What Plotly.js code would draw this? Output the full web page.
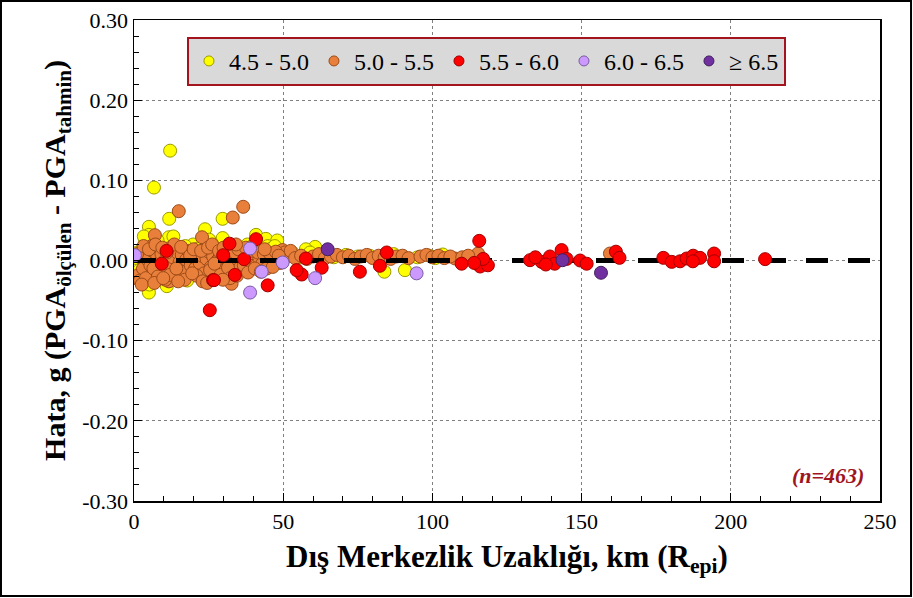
<!DOCTYPE html>
<html>
<head>
<meta charset="utf-8">
<script src="https://cdn.plot.ly/plotly-3.0.1.min.js"></script>
<style>
html,body{margin:0;padding:0;background:#fff;}
#chart{width:913px;height:598px;}
</style>
</head>
<body>
<div id="chart"></div>
<script>
// ---- Data ----
const seriesNames = ["4.5 - 5.0", "5.0 - 5.5", "5.5 - 6.0", "6.0 - 6.5", "\u2265 6.5"];

const m45X = [12.1, 6.7, 11.8, 5.0, 5.0, 11.7, 3.7, 19.8, 23.8, 5.0, 3.0, 6.4, 11.0, 17.8, 29.7, 29.7, 40.9, 44.2, 44.8, 60.7, 57.6, 83.9, 90.8, 103.5,
  0.8, 1.8, 2.8, 3.5, 4.2, 5.5, 6.0, 7.5, 8.2, 9.0, 10.5, 12.5, 14.0, 16.5, 18.0, 20.0, 21.5, 24.0, 26.0, 27.5, 30.5, 34.5, 36.0, 38.0, 42.0, 46.0, 48.0, 50.0,
  53.0, 56.0, 59.0, 63.0, 67.0, 71.0, 75.0, 79.0, 84.0, 87.0, 95.0, 99.0, 101.0,
  1.2, 3.3, 5.2, 7.9, 10.2, 13.2, 15.5, 17.2, 22.2, 25.2, 28.2, 31.2, 33.5, 37.2, 40.2, 43.2, 45.5, 47.2];
const m45Y = [0.137, 0.091, 0.052, 0.042, 0.032, 0.029, 0.024, 0.020, 0.039, -0.040, -0.029, -0.026, -0.032, -0.025, 0.052, 0.028, 0.032, 0.027, 0.018, 0.017, 0.014, -0.014, -0.012, 0.0075,
  0.003, -0.012, 0.014, -0.005, 0.020, -0.022, 0.008, -0.009, 0.016, -0.017, 0.005, -0.014, 0.012, -0.020, 0.008, -0.012, 0.015, -0.008, 0.022, 0.006, 0.010, 0.016, -0.012, 0.020, 0.012, 0.015, 0.025, 0.006,
  0.010, 0.004, 0.010, 0.006, 0.004, 0.007, 0.005, 0.006, 0.005, 0.008, 0.004, 0.006, 0.003,
  0.010, 0.030, -0.030, 0.025, -0.020, 0.030, -0.015, 0.018, -0.010, 0.026, -0.015, 0.015, 0.010, -0.008, 0.020, -0.010, 0.012, 0.018];

const m50X = [15.0, 36.6, 33.1, 7.0, 22.8, 5.9, 0.9, 4.7, 11.7, 32.7, 49.8, 115.3, 107.6, 159.5,
  1.5, 2.2, 3.0, 3.8, 4.5, 5.5, 6.2, 7.0, 7.8, 8.5, 9.2, 10.0, 10.8, 11.5, 12.3, 13.0, 13.8, 14.5, 15.3, 16.0, 16.8, 17.5, 18.3, 19.0, 19.8, 20.5,
  21.3, 22.0, 22.8, 23.5, 24.3, 25.0, 25.8, 26.5, 27.3, 28.0, 28.8, 29.5, 30.3, 31.0, 31.8, 32.5, 33.3, 34.0, 34.8, 35.5, 36.3, 37.0, 37.8, 38.5,
  39.3, 40.0, 41.0, 42.0, 43.0, 44.0, 45.0, 46.0, 47.0, 48.0, 49.0, 50.5, 51.5,
  52.5, 54.0, 56.0, 58.0, 60.0, 62.0, 64.0, 66.0, 68.0, 70.0, 72.0, 74.0, 76.0, 78.0, 80.0, 82.0, 84.0, 86.0, 88.0, 90.0, 92.0, 96.0, 98.0, 100.0, 102.0, 104.0, 106.0, 110.0, 112.0,
  1.0, 2.0, 3.2, 4.0, 5.0, 6.5, 7.2, 8.0, 9.5, 10.5, 11.0, 12.0, 13.5, 14.2, 15.8, 17.0, 18.8, 20.0, 21.0, 22.5, 23.0, 24.8, 25.5, 26.2, 27.0, 28.5, 29.0, 30.0,
  31.5, 32.2, 33.8, 34.5, 35.0, 36.8, 37.5, 38.2, 39.8, 40.5, 41.5, 42.5, 43.5, 44.5, 45.5, 46.5, 47.5, 48.5, 2.6, 6.8, 9.8, 14.8, 19.5, 24.5, 29.8, 34.2, 43.8];
const m50Y = [0.0615, 0.067, 0.0536, 0.0316, 0.029, 0.018, -0.022, -0.018, -0.026, -0.029, 0.013, 0.0087, 0.0025, 0.0087,
  -0.018, 0.004, -0.010, 0.010, 0.001, -0.006, 0.012, -0.015, 0.005, -0.003, 0.008, -0.012, 0.002, 0.015, -0.008, 0.004, -0.019, 0.010, -0.002, 0.007, -0.014, 0.001, 0.012, -0.006, 0.004, -0.010,
  0.009, -0.003, 0.006, -0.016, 0.002, 0.011, -0.008, 0.005, -0.021, 0.000, 0.008, -0.012, 0.003, 0.013, -0.005, 0.006, -0.015, 0.001, 0.010, -0.009, 0.004, -0.002, 0.007, -0.011,
  0.002, 0.009, -0.006, 0.003, -0.004, 0.006, -0.001, 0.004, 0.008, 0.002, -0.003, 0.010, 0.005,
  0.012, 0.003, 0.006, 0.002, 0.005, 0.008, 0.003, 0.005, 0.007, 0.004, 0.006, 0.002, 0.005, 0.007, 0.003, 0.006, 0.004, 0.002, 0.005, 0.006, 0.003, 0.005, 0.007, 0.004, 0.006, 0.003, 0.005, 0.004, 0.006,
  0.008, -0.025, 0.018, -0.022, 0.014, -0.010, 0.020, -0.020, 0.016, -0.024, 0.010, -0.018, 0.020, -0.010, 0.017, -0.024, 0.006, 0.014, -0.019, 0.012, -0.026, 0.016, -0.012, 0.020, -0.004, 0.012, -0.018, 0.016,
  -0.009, -0.022, 0.010, -0.019, 0.014, -0.006, 0.016, -0.015, 0.012, -0.010, 0.010, -0.014, 0.008, -0.010, 0.009, -0.008, 0.011, 0.006, -0.030, -0.028, -0.022, -0.026, -0.016, -0.028, -0.024, 0.020, 0.014];

const m55X = [10.9, 9.3, 25.4, 26.5, 32.0, 40.9, 29.9, 36.9, 33.8, 26.8, 44.8, 57.6, 62.9, 56.2, 54.5, 75.7, 84.7, 82.4,
  115.7, 109.8, 116.0, 118.6, 117.0, 114.0, 132.7, 136.6, 143.3, 139.4, 141.0, 134.5, 138.0, 145.0, 149.5, 151.7, 161.5, 162.7,
  177.4, 180.2, 183.0, 185.2, 187.4, 189.7, 187.3, 194.4, 194.4, 211.5];
const m55Y = [0.012, -0.004, -0.062, -0.0245, 0.021, 0.0266, 0.0066, 0.0016, -0.018, -0.0245, -0.031, 0.0025, -0.009, -0.0175, -0.012, -0.014, 0.010, -0.0066,
  0.0245, -0.004, -0.0075, -0.006, 0.002, -0.003, 0.0004, -0.0017, 0.013, 0.005, -0.004, 0.004, -0.005, 0.002, 0.000, -0.004, 0.011, 0.0033,
  0.0033, -0.0017, -0.001, 0.0025, 0.006, 0.0033, -0.001, 0.0087, -0.001, 0.0017];

const m60X = [0.3, 38.9, 42.8, 38.9, 49.8, 60.7, 94.7];
const m60Y = [0.0066, 0.015, -0.014, -0.040, -0.0025, -0.022, -0.016];

const m65X = [64.9, 143.6, 156.5];
const m65Y = [0.014, 0.0004, -0.0153];

const zeroLineX = [0, 250];
const zeroLineY = [0, 0];

const xTickVals = [0, 50, 100, 150, 200, 250];
const yTickVals = [-0.3, -0.2, -0.1, 0, 0.1, 0.2, 0.3];
const yTickText = ["-0.30", "-0.20", "-0.10", "0.00", "0.10", "0.20", "0.30"];

// ---- Styles ----
const fills = ["#ffff00", "#e8803c", "#ff0000", "#cc99ff", "#7030a0"];
const edges = ["#9a9a00", "#9c4a18", "#a00000", "#7a5aa0", "#43205f"];
const FONT = "Liberation Serif, serif";

function pts(x, y, i) {
  return {
    type: "scatter", mode: "markers", x: x, y: y, name: seriesNames[i],
    showlegend: false, hoverinfo: "x+y",
    marker: { size: 13, color: fills[i], line: { color: edges[i], width: 1 } }
  };
}
function leg(i) {
  return {
    type: "scatter", mode: "markers", x: [null], y: [null], name: seriesNames[i],
    showlegend: true, legendrank: i + 1,
    marker: { size: 10, color: fills[i], line: { color: edges[i], width: 1 } }
  };
}

const data = [
  pts(m45X, m45Y, 0),
  pts(m50X, m50Y, 1),
  { type: "scatter", mode: "lines", x: zeroLineX, y: zeroLineY, showlegend: false, hoverinfo: "skip",
    line: { color: "#000", width: 5, dash: "22px,20px" } },
  pts(m55X, m55Y, 2),
  pts(m60X, m60Y, 3),
  pts(m65X, m65Y, 4),
  leg(0), leg(1), leg(2), leg(3), leg(4)
];

const layout = {
  width: 913, height: 598,
  margin: { l: 134, r: 33, t: 20, b: 97 },
  paper_bgcolor: "#fff", plot_bgcolor: "#fff",
  font: { family: FONT, color: "#000" },
  showlegend: true,
  legend: {
    orientation: "h", x: 0.071, y: 0.965, xanchor: "left", yanchor: "top",
    bgcolor: "#d9d9d9", bordercolor: "#a3141f", borderwidth: 2,
    font: { family: FONT, size: 24, color: "#000" }, traceorder: "normal"
  },
  xaxis: {
    range: [0, 250], tickvals: xTickVals, ticktext: xTickVals.map(String),
    ticks: "inside", ticklen: 8, tickwidth: 1, tickcolor: "#000",
    minor: { dtick: 10, ticks: "inside", ticklen: 5, tickcolor: "#000", showgrid: false },
    showline: true, linecolor: "#000", linewidth: 1.5, mirror: true,
    showgrid: true, gridcolor: "#7f7f7f", griddash: "3px,3px", gridwidth: 1,
    zeroline: false, tickfont: { family: FONT, size: 22, color: "#000" },
    title: { text: "<b>Dış Merkezlik Uzaklığı, km (R<sub>epi</sub>)</b>", font: { family: FONT, size: 31 }, standoff: 12 }
  },
  yaxis: {
    range: [-0.3, 0.3], tickvals: yTickVals, ticktext: yTickText,
    ticks: "inside", ticklen: 8, tickwidth: 1, tickcolor: "#000",
    minor: { dtick: 0.02, ticks: "inside", ticklen: 5, tickcolor: "#000", showgrid: false },
    showline: true, linecolor: "#000", linewidth: 1.5, mirror: true,
    showgrid: true, gridcolor: "#7f7f7f", griddash: "3px,3px", gridwidth: 1,
    zeroline: false, tickfont: { family: FONT, size: 22, color: "#000" },
    title: { text: "<b>Hata, g (PGA<sub>ölçülen</sub> - PGA<sub>tahmin</sub>)</b>", font: { family: FONT, size: 30 }, standoff: 8 }
  },
  annotations: [{
    xref: "paper", yref: "paper", x: 0.981, y: 0.054, xanchor: "right", yanchor: "middle",
    text: "<b><i>(n=463)</i></b>", showarrow: false,
    font: { family: FONT, size: 22, color: "#a0141e" }
  }],
  shapes: [{
    type: "rect", xref: "paper", yref: "paper",
    x0: -0.1783, x1: 1.0416, y0: -0.1975, y1: 1.0395,
    line: { color: "#000", width: 2 }, fillcolor: "rgba(0,0,0,0)", layer: "above"
  }]
};

Plotly.newPlot("chart", data, layout, { displayModeBar: false, staticPlot: true });
</script>
</body>
</html>
